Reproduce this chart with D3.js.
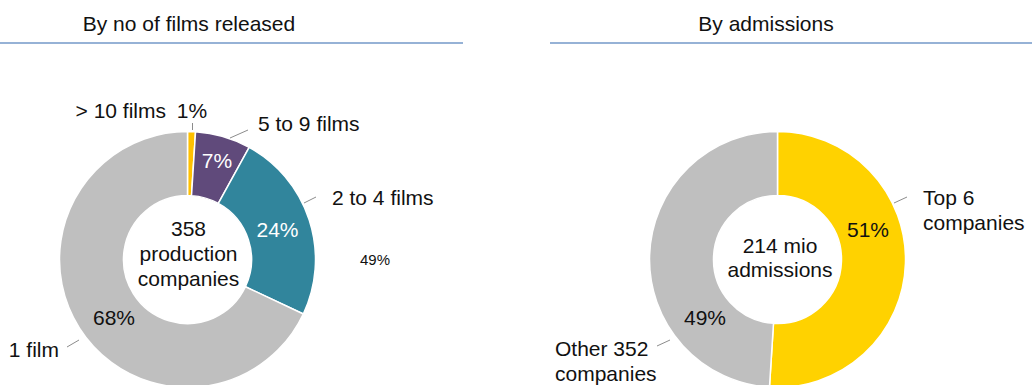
<!DOCTYPE html>
<html>
<head>
<meta charset="utf-8">
<script src="https://cdn.jsdelivr.net/npm/d3@7"></script>
<style>
  html, body { margin: 0; padding: 0; background: #fff; }
  svg { display: block; font-family: "Liberation Sans", Arial, sans-serif; }
</style>
</head>
<body>
<svg id="chart" width="1032" height="385"></svg>
<script>
// Production companies by number of films released (share of companies, %)
const filmCategories = ["> 10 films", "5 to 9 films", "2 to 4 films", "1 film"];
const filmShares = [1, 7, 24, 68];
const filmColors = ["#FFC000", "#604A7B", "#31859C", "#BFBFBF"];

// Production companies by admissions (share of admissions, %)
const admissionCategories = ["Top 6 companies", "Other 352 companies"];
const admissionShares = [51, 49];
const admissionColors = ["#FFD200", "#BFBFBF"];

const panelTitles = ["By no of films released", "By admissions"];
const centerTexts = [["358", "production", "companies"], ["214 mio", "admissions"]];

const svg = d3.select("#chart");
const outerR = 128, innerR = 64;

// Panel headers with rule underneath
const headers = [
  { title: panelTitles[0], tx: 189, x1: 0, x2: 463 },
  { title: panelTitles[1], tx: 766, x1: 550, x2: 1032 }
];
headers.forEach(h => {
  svg.append("text").attr("x", h.tx).attr("y", 31).attr("text-anchor", "middle")
    .attr("font-size", 21).attr("fill", "#111").text(h.title);
  svg.append("line").attr("x1", h.x1).attr("x2", h.x2).attr("y1", 43).attr("y2", 43)
    .attr("stroke", "#7398C8").attr("stroke-width", 1.5);
});

const pie = d3.pie().sort(null).value(d => d);
const arc = d3.arc().innerRadius(innerR).outerRadius(outerR);

function donut(cx, cy, values, colors) {
  const g = svg.append("g").attr("transform", `translate(${cx},${cy})`);
  g.selectAll("path").data(pie(values)).join("path")
    .attr("d", arc)
    .attr("fill", (d, i) => colors[i])
    .attr("stroke", "#fff").attr("stroke-width", 1.5)
    .attr("stroke-linejoin", "round");
  return g;
}

donut(187.5, 259.5, filmShares, filmColors);
donut(777.5, 259.5, admissionShares, admissionColors);

// Centre captions
function centerText(cx, baselines, lines) {
  lines.forEach((t, i) => {
    svg.append("text").attr("x", cx).attr("y", baselines[i]).attr("text-anchor", "middle")
      .attr("font-size", 21).attr("fill", "#111").text(t);
  });
}
centerText(188.5, [236, 261, 286], centerTexts[0]);
centerText(780, [253, 277], centerTexts[1]);

// Percentage labels
const pctLabels = [
  { v: filmShares[0], x: 192, y: 118, fill: "#111" },
  { v: filmShares[1], x: 217, y: 168, fill: "#fff" },
  { v: filmShares[2], x: 277.5, y: 237, fill: "#fff" },
  { v: filmShares[3], x: 114, y: 325, fill: "#111" },
  { v: admissionShares[0], x: 868, y: 237, fill: "#111" },
  { v: admissionShares[1], x: 705, y: 325, fill: "#111" }
];
pctLabels.forEach(l => {
  svg.append("text").attr("x", l.x).attr("y", l.y).attr("text-anchor", "middle")
    .attr("font-size", 21).attr("fill", l.fill).text(l.v + "%");
});

// Stray small value label in the left panel
svg.append("text").attr("x", 375).attr("y", 265).attr("text-anchor", "middle")
  .attr("font-size", 15).attr("fill", "#111").text(admissionShares[1] + "%");

// Category labels
const catLabels = [
  { lines: [filmCategories[0]], x: 166, y: 118, anchor: "end" },
  { lines: [filmCategories[1]], x: 258, y: 131, anchor: "start" },
  { lines: [filmCategories[2]], x: 332, y: 205, anchor: "start" },
  { lines: [filmCategories[3]], x: 59, y: 357, anchor: "end" },
  { lines: ["Top 6", "companies"], x: 923, y: 205, anchor: "start" },
  { lines: ["Other 352", "companies"], x: 555, y: 356, anchor: "start" }
];
catLabels.forEach(l => {
  l.lines.forEach((t, i) => {
    svg.append("text").attr("x", l.x).attr("y", l.y + i * 25).attr("text-anchor", l.anchor)
      .attr("font-size", 21).attr("fill", "#111").text(t);
  });
});

// Leader lines
const leaders = [
  [192.5, 123, 192.5, 130],
  [230, 138, 248, 130],
  [304, 203, 316, 197],
  [67, 347, 79, 340],
  [894, 203, 907, 197],
  [657, 346, 670, 340]
];
svg.selectAll("line.leader").data(leaders).join("line")
  .attr("class", "leader")
  .attr("x1", d => d[0]).attr("y1", d => d[1])
  .attr("x2", d => d[2]).attr("y2", d => d[3])
  .attr("stroke", "#8c8c8c").attr("stroke-width", 1);
</script>
</body>
</html>
